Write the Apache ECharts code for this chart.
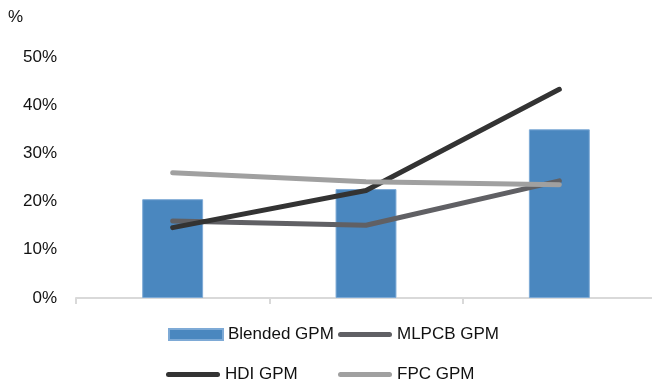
<!DOCTYPE html>
<html>
<head>
<meta charset="utf-8">
<script src="https://cdn.jsdelivr.net/npm/echarts@6/dist/echarts.min.js"></script>
<style>
  html, body { margin: 0; padding: 0; background: #fff; }
  #chart { width: 652px; height: 383px; }
</style>
</head>
<body>
<div id="chart"></div>
<script>
// Gross profit margins (%) by period
const categories = ['P1', 'P2', 'P3'];
const blendedGPM = [20.5, 22.6, 35.0];
const mlpcbGPM = [16.0, 15.1, 24.3];
const hdiGPM = [14.6, 22.3, 43.3];
const fpcGPM = [26.0, 24.1, 23.5];
const yTicks = { min: 0, max: 50, interval: 10 };

const FONT = '"Liberation Sans", Arial, sans-serif';
const capsule = 'path://M2.5,0 L51.5,0 A2.5,2.5 0 0 1 51.5,5 L2.5,5 A2.5,2.5 0 0 1 2.5,0 Z';

function lineSeries(name, data, color) {
  return {
    name: name,
    type: 'line',
    data: data,
    symbol: 'none',
    lineStyle: { color: color, width: 5, cap: 'round', join: 'round' },
    itemStyle: { color: color },
    emphasis: { disabled: true }
  };
}

function legendItem(name, left, top, icon, h, color) {
  return {
    data: [name],
    left: left,
    top: top,
    padding: 0,
    icon: icon,
    itemWidth: 54,
    itemHeight: h,
    itemGap: 0,
    selectedMode: false,
    itemStyle: { color: color },
    textStyle: { fontFamily: FONT, fontSize: 17, color: '#111', padding: [0, 0, 0, 0] }
  };
}

const chart = echarts.init(document.getElementById('chart'), null, { renderer: 'canvas' });
chart.setOption({
  animation: false,
  // plot area runs slightly past the right edge of the canvas
  grid: { left: 76, width: 580, top: 57, height: 241, outerBoundsMode: 'none', containLabel: false },
  xAxis: {
    type: 'category',
    data: categories,
    boundaryGap: true,
    axisLine: { lineStyle: { color: '#d9d9d9', width: 2 } },
    axisTick: { show: true, length: 6, lineStyle: { color: '#d9d9d9', width: 2 } },
    axisLabel: { show: false }
  },
  yAxis: {
    type: 'value',
    min: yTicks.min,
    max: yTicks.max,
    interval: yTicks.interval,
    axisLine: { show: false },
    axisTick: { show: false },
    splitLine: { show: false },
    axisLabel: {
      formatter: '{value}%',
      margin: 19,
      fontFamily: FONT,
      fontSize: 17,
      color: '#111'
    }
  },
  graphic: [
    {
      type: 'text',
      left: 8,
      top: 9,
      style: { text: '%', fontFamily: FONT, fontSize: 17, fill: '#111' }
    }
  ],
  legend: [
    legendItem('Blended GPM', 168, 326, 'rect', 11, '#4a87bf'),
    legendItem('MLPCB GPM', 338, 326, capsule, 5, '#606064'),
    legendItem('HDI GPM', 166, 366, capsule, 5, '#333333'),
    legendItem('FPC GPM', 338, 366, capsule, 5, '#a0a0a0')
  ],
  series: [
    {
      name: 'Blended GPM',
      type: 'bar',
      data: blendedGPM,
      barWidth: '31.5%',
      itemStyle: { color: '#4a87bf', borderColor: '#7eaad6', borderWidth: 1 },
      emphasis: { disabled: true }
    },
    lineSeries('MLPCB GPM', mlpcbGPM, '#606064'),
    lineSeries('HDI GPM', hdiGPM, '#333333'),
    lineSeries('FPC GPM', fpcGPM, '#a0a0a0')
  ]
});
</script>
</body>
</html>
